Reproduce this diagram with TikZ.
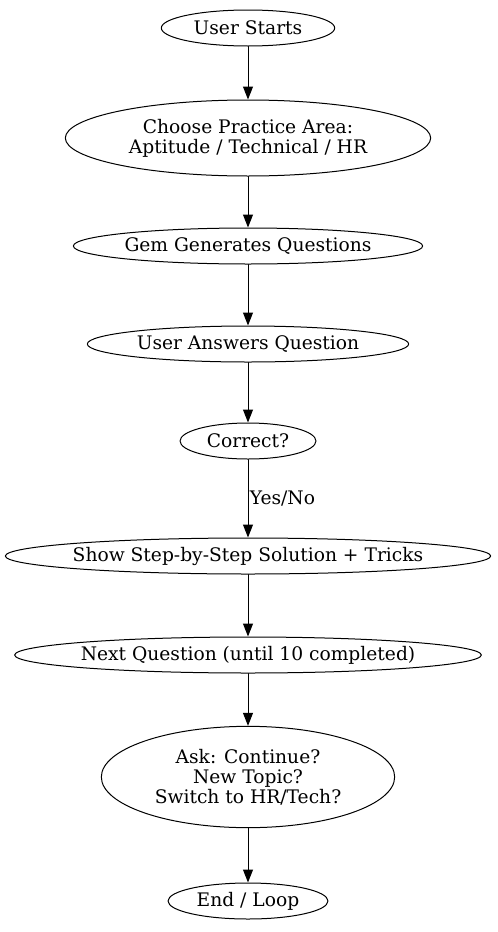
\documentclass[tikz,border=0pt]{standalone}
\usepackage{fontspec}
\setmainfont{DejaVu Serif}
\usetikzlibrary{shapes,arrows.meta}

\tikzset{
  stage/.style={draw,ellipse,inner sep=0pt,line width=0.75pt,font=\fontsize{14pt}{15pt}\selectfont,align=center},
  flow/.style={-{Triangle[length=9.75pt,width=7.5pt]},line width=0.75pt}
}

\begin{document}
\begin{tikzpicture}
      [x=0.75pt,y=-0.75pt,line cap=round,line join=round]

\useasboundingbox (0,0) rectangle (498,932);

%the stages, top to bottom
  \node[stage,minimum width=130pt,minimum height=27pt] (start) at (248,28) {User Starts};
  \node[stage,minimum width=274pt,minimum height=57pt] (area) at (248,138) {Choose Practice Area:\\Aptitude / Technical / HR};
  \node[stage,minimum width=262pt,minimum height=27pt] (gen) at (248,246) {Gem Generates Questions};
  \node[stage,minimum width=241pt,minimum height=27pt] (answer) at (248,344) {User Answers Question};
  \node[stage,minimum width=102pt,minimum height=27pt] (correct) at (248,441) {Correct?};
  \node[stage,minimum width=364pt,minimum height=27pt,inner xsep=-6pt] (solution) at (248,556) {Show Step-by-Step Solution + Tricks};
  \node[stage,minimum width=350pt,minimum height=27pt,inner xsep=-6pt] (next) at (248,655) {Next Question (until 10 completed)};
  \node[stage,minimum width=220pt,minimum height=76pt] (ask) at (248,777) {Ask: Continue?\\New Topic?\\Switch to HR/Tech?};
  \node[stage,minimum width=120pt,minimum height=27pt] (finish) at (248,901) {End / Loop};

%connectors
  \draw[flow] (start) -- (area);
  \draw[flow] (area) -- (gen);
  \draw[flow] (gen) -- (answer);
  \draw[flow] (answer) -- (correct);
  \draw[flow] (correct) -- node[anchor=west,inner sep=1pt,font=\fontsize{14pt}{15pt}\selectfont] {Yes/No} (solution);
  \draw[flow] (solution) -- (next);
  \draw[flow] (next) -- (ask);
  \draw[flow] (ask) -- (finish);

\end{tikzpicture}
\end{document}
